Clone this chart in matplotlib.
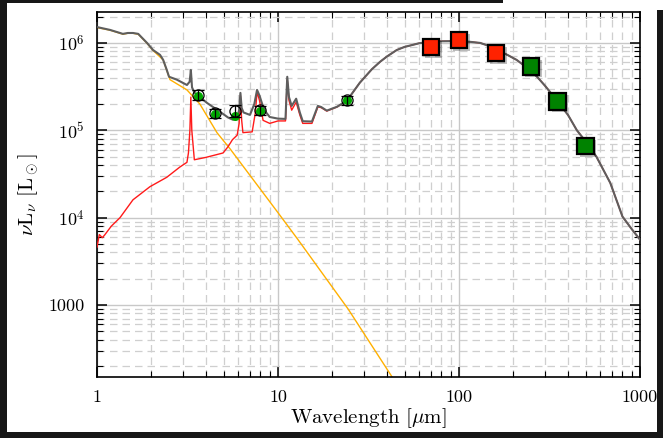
import matplotlib
matplotlib.use("Agg")
import matplotlib.pyplot as plt
import matplotlib.patheffects as pe
from matplotlib.patches import Rectangle
from matplotlib.ticker import LogLocator, NullFormatter

plt.rcParams['font.family'] = ['cmr10', 'DejaVu Serif']
plt.rcParams['mathtext.fontset'] = 'cm'
plt.rcParams['axes.unicode_minus'] = False

# total model (grey)
total_wave = [1.0, 1.18, 1.39, 1.48, 1.58, 1.69, 1.89, 2.04, 2.23, 2.32, 2.43, 2.5, 2.76,
              3.14, 3.25, 3.3, 3.35, 3.45, 4.05, 4.78, 5.3, 5.64, 5.95, 6.1, 6.2, 6.3, 6.45,
              7.0, 7.4, 7.66, 7.9, 8.27, 8.6, 9.0, 10.0, 11.0, 11.25, 11.5, 11.9, 12.6, 13.2,
              13.7, 15.4, 16.6, 17.3, 18.6, 21.2, 24.0, 28.3, 33.0, 36.7, 40.0, 45.3, 50.0,
              55.5, 60.0, 69.0, 80.0, 97.0, 115.0, 131.0, 145.0, 162.0, 185.0, 208.0, 235.0,
              270.0, 300.0, 347.0, 400.0, 448.0, 500.0, 574.0, 685.0, 800.0, 900.0, 1000.0]
total_flux = [1.52e6, 1.41e6, 1.27e6, 1.3e6, 1.3e6, 1.27e6, 1.0e6, 0.83e6, 0.73e6, 0.64e6,
              0.49e6, 0.41e6, 0.38e6, 0.33e6, 0.36e6, 0.49e6, 0.31e6, 0.27e6, 0.206e6,
              0.163e6, 0.14e6, 0.132e6, 0.14e6, 0.17e6, 0.268e6, 0.18e6, 0.16e6, 0.15e6,
              0.2e6, 0.29e6, 0.25e6, 0.186e6, 0.16e6, 0.142e6, 0.136e6, 0.135e6, 0.41e6,
              0.24e6, 0.19e6, 0.23e6, 0.16e6, 0.127e6, 0.126e6, 0.19e6, 0.185e6, 0.168e6,
              0.186e6, 0.218e6, 0.35e6, 0.5e6, 0.61e6, 0.7e6, 0.83e6, 0.9e6, 0.95e6, 0.99e6,
              1.03e6, 1.045e6, 1.05e6, 1.03e6, 1.0e6, 0.93e6, 0.83e6, 0.73e6, 0.64e6,
              0.53e6, 0.41e6, 0.32e6, 0.22e6, 0.15e6, 0.1e6, 0.075e6, 0.05e6, 0.025e6,
              1.03e4, 7.4e3, 5.6e3]

# dust component (red)
dust_wave = [1.0, 1.03, 1.07, 1.1, 1.2, 1.34, 1.58, 1.96, 2.43, 2.87, 3.14, 3.2, 3.26, 3.3,
             3.34, 3.45, 4.0, 4.97, 5.3, 5.6, 5.95, 6.1, 6.2, 6.3, 6.4, 7.2, 7.5, 7.66, 7.9,
             8.27, 9.0, 10.0, 11.0, 11.25, 11.5, 11.9, 12.6, 13.2, 13.7, 15.4, 16.6, 17.3,
             18.6, 21.2, 24.0, 28.3, 33.0, 36.7, 40.0, 45.3, 50.0, 55.5, 60.0, 69.0, 80.0,
             97.0, 115.0, 131.0, 145.0, 162.0, 185.0, 208.0, 235.0, 270.0, 300.0, 347.0,
             400.0, 448.0, 500.0, 574.0, 685.0, 800.0, 900.0, 1000.0]
dust_flux = [4.6e3, 6.4e3, 5.9e3, 6.3e3, 8.0e3, 1.0e4, 1.6e4, 2.26e4, 2.9e4, 3.8e4, 4.3e4,
             5.5e4, 1.0e5, 2.4e5, 1.0e5, 4.6e4, 4.9e4, 5.5e4, 6.5e4, 7.8e4, 8.8e4, 1.2e5,
             2.5e5, 1.3e5, 9.4e4, 9.6e4, 1.6e5, 2.75e5, 2.2e5, 1.3e5, 1.2e5, 1.28e5, 1.28e5,
             3.8e5, 2.2e5, 1.7e5, 2.1e5, 1.5e5, 1.2e5, 1.2e5, 1.85e5, 1.82e5, 1.66e5,
             1.85e5, 2.17e5, 3.5e5, 5.0e5, 6.1e5, 7.0e5, 8.3e5, 9.0e5, 9.5e5, 9.9e5, 1.03e6,
             1.045e6, 1.05e6, 1.03e6, 1.0e6, 9.3e5, 8.3e5, 7.3e5, 6.4e5, 5.3e5, 4.1e5,
             3.2e5, 2.2e5, 1.5e5, 1.0e5, 7.5e4, 5.0e4, 2.5e4, 1.03e4, 7.4e3, 5.6e3]

# stellar component (yellow)
star_wave = [1.0, 1.18, 1.39, 1.48, 1.58, 1.69, 1.89, 2.04, 2.32, 2.53, 3.14, 3.7, 4.6,
             5.43, 10.0, 12.9, 24.4, 42.7, 60.0]
star_flux = [1.5e6, 1.4e6, 1.26e6, 1.29e6, 1.29e6, 1.26e6, 0.99e6, 0.82e6, 0.64e6, 0.38e6,
             0.29e6, 0.2e6, 0.094e6, 0.0615e6, 1.14e4, 5.6e3, 900.0, 150.0, 54.0]

# Spitzer photometry: observed (open) and model (green)
irac_wave = [3.6, 4.5, 5.8, 8.0, 24.0]
irac_obs = [2.55e5, 1.57e5, 1.67e5, 1.7e5, 2.2e5]
irac_err = [3.2e4, 2.0e4, 2.6e4, 2.1e4, 2.4e4]
irac_model = [2.5e5, 1.55e5, 1.45e5, 1.65e5, 2.2e5]
mips160_wave = [156.0]
mips160_obs = [7.7e5]
mips160_err = [8e4]

# Herschel photometry
pacs_wave = [70.0, 100.0, 160.0]
pacs_flux = [0.9e6, 1.08e6, 0.77e6]
spire_wave = [250.0, 350.0, 500.0]
spire_flux = [0.54e6, 0.215e6, 0.066e6]

xtick_vals = [1, 10, 100, 1000]
xtick_text = ['1', '10', '100', '1000']
ytick_vals = [1e3, 1e4, 1e5, 1e6]
ytick_text = ['1000', r'$10^{4}$', r'$10^{5}$', r'$10^{6}$']

W, H = 663, 438
fig = plt.figure(figsize=(W / 100, H / 100), dpi=100)
fig.patch.set_facecolor('white')
ax = fig.add_axes([97 / W, 1 - 377 / H, (640 - 97) / W, (377 - 12) / H])

ax.set_xscale('log')
ax.set_yscale('log')
ax.set_xlim(1, 1000)
ax.set_ylim(150, 2.26e6)

ax.grid(which='major', color='#c8c8c8', lw=1.0, ls='-', zorder=0)
ax.grid(which='minor', color='#cfcfcf', lw=0.9, ls=(0, (6, 4)), zorder=0)
ax.set_axisbelow(True)

ax.plot(star_wave, star_flux, color='#ffb000', lw=1.0, zorder=2)
ax.plot(dust_wave, dust_flux, color='#ff1a1a', lw=1.0, zorder=3)
ax.plot(total_wave, total_flux, color='#5e5e5e', lw=1.5, zorder=4)

ax.errorbar(mips160_wave, mips160_obs, yerr=mips160_err, fmt='o', ms=6, mfc='none',
            mec='k', ecolor='k', elinewidth=0.8, capsize=3, mew=0.8, zorder=5)
ax.plot(irac_wave, irac_model, 'o', ms=5.5, color='#00a800', mec='#00a800', zorder=6)
ax.errorbar(irac_wave, irac_obs, yerr=irac_err, fmt='o', ms=8, mfc='none', mec='k',
            ecolor='k', elinewidth=0.9, capsize=4, mew=0.9, zorder=7)

shadow = [pe.SimplePatchShadow(offset=(1.8, -1.8), shadow_rgbFace='k', alpha=0.25), pe.Normal()]
ax.plot(pacs_wave, pacs_flux, 's', ms=12, color='#ff2200', mec='k', mew=1.6, zorder=8,
        path_effects=shadow)
ax.plot(spire_wave, spire_flux, 's', ms=12, color='#008200', mec='k', mew=1.6, zorder=8,
        path_effects=shadow)

ax.set_xticks(xtick_vals)
ax.set_xticklabels(xtick_text)
ax.set_yticks(ytick_vals)
ax.set_yticklabels(ytick_text)
ax.xaxis.set_minor_locator(LogLocator(base=10, subs=range(2, 10), numticks=20))
ax.yaxis.set_minor_locator(LogLocator(base=10, subs=range(2, 10), numticks=20))
ax.xaxis.set_minor_formatter(NullFormatter())
ax.yaxis.set_minor_formatter(NullFormatter())
ax.tick_params(which='both', direction='in', top=True, right=True, colors='k')
ax.tick_params(which='major', length=7, width=1.1, labelsize=13, pad=9)
ax.tick_params(which='minor', length=4, width=0.8)
for s in ax.spines.values():
    s.set_linewidth(1.2)

ax.set_xlabel(r'Wavelength [$\mu$m]', fontsize=15, labelpad=1)
ax.set_ylabel(r'$\nu$L$_\nu$ [L$_\odot$]', fontsize=15, labelpad=5)

# dark screenshot surroundings
dark = '#171717'
for (x0, y0, x1, y1) in [(0, 0, 7, H), (0, 0, 503, 3), (657, 10, W, H), (0, 432, W, H)]:
    fig.add_artist(Rectangle((x0 / W, 1 - y1 / H), (x1 - x0) / W, (y1 - y0) / H,
                             transform=fig.transFigure, color=dark, zorder=20, lw=0))

fig.savefig('out.png', dpi=100, facecolor=fig.get_facecolor())
